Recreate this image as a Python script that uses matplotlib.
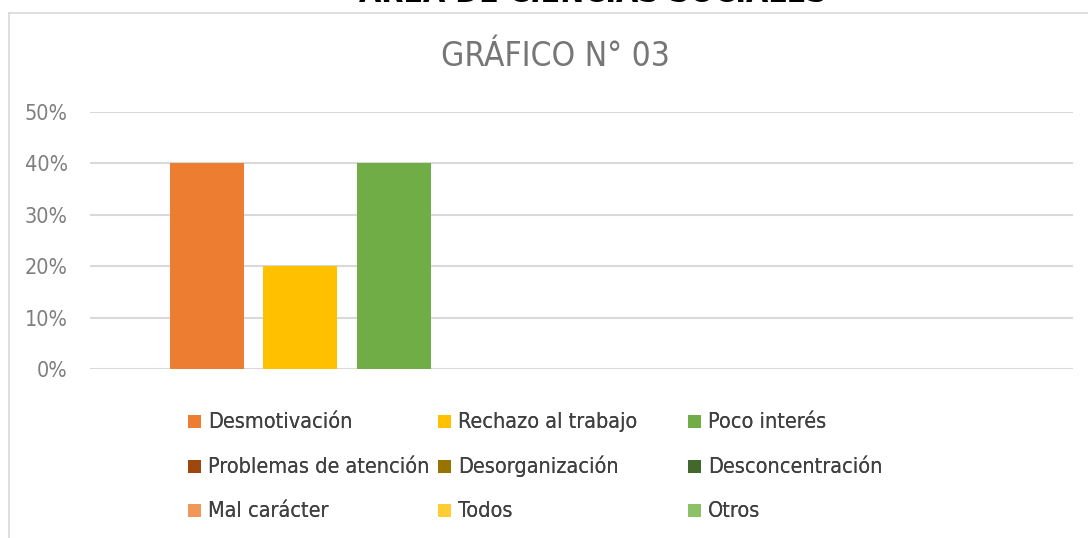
import matplotlib
matplotlib.use("Agg")
import matplotlib.pyplot as plt
from matplotlib.lines import Line2D
from matplotlib.patches import Rectangle
from matplotlib.legend_handler import HandlerPatch
from matplotlib.ticker import FixedLocator, FuncFormatter

plt.rcParams['font.family'] = ['DejaVu Sans']
plt.rcParams['font.stretch'] = 'condensed'

# one category, nine series (Excel clustered column)
SERIES = [
    "Desmotivación", "Rechazo al trabajo", "Poco interés",
    "Problemas de atención", "Desorganización", "Desconcentración",
    "Mal carácter", "Todos", "Otros",
]
VALUES = [0.40, 0.20, 0.40, 0.0, 0.0, 0.0, 0.0, 0.0, 0.0]
COLORS = [
    "#ED7D31", "#FFC000", "#70AD47",
    "#9E480E", "#997300", "#43682B",
    "#F1975A", "#FFCD33", "#8CC168",
]
Y_TICKS = [0.0, 0.1, 0.2, 0.3, 0.4, 0.5]

TITLE = "GRÁFICO N° 03"
TOP_TITLE = "AREA DE CIENCIAS SOCIALES"

W, H = 1088, 538
fig = plt.figure(figsize=(W / 100, H / 100), dpi=100)
fig.patch.set_facecolor("white")

# plot area in pixel coords
x0, x1, ytop, ybot = 90, 1073, 112, 369
ax = fig.add_axes([x0 / W, 1 - ybot / H, (x1 - x0) / W, (ybot - ytop) / H])

bars = []
for i, (name, v, c) in enumerate(zip(SERIES, VALUES, COLORS)):
    bars.append(ax.bar(i, v, width=0.79, color=c, label=name, zorder=3))

ax.set_xlim(-1.25, 9.26)
ax.set_ylim(0, 0.5)
ax.yaxis.set_major_locator(FixedLocator(Y_TICKS))
ax.yaxis.set_major_formatter(FuncFormatter(lambda v, p: f"{v * 100:.0f}%"))
ax.set_xticks([])
for s in ax.spines.values():
    s.set_visible(False)
ax.tick_params(axis='y', length=0, pad=16, labelsize=15.5, labelcolor="#7F7F7F")
ax.grid(True, axis='y', color="#D9D9D9", linewidth=1.5, zorder=0)
ax.set_axisbelow(True)

# chart title
fig.text(555 / W, 1 - 57 / H, TITLE, ha="center", va="center",
         fontsize=24, color="#767676")

# cut-off page heading above the chart frame
fig.text(593 / W, 1 - 1.5 / H, TOP_TITLE, ha="center", va="baseline",
         fontsize=23, fontweight="bold", color="#000000")

# chart frame (left and top edges)
fx, fy = 9 / W, 1 - 13 / H
fig.add_artist(Line2D([fx, 1.0], [fy, fy], transform=fig.transFigure,
                      color="#D9D9D9", linewidth=1.2))
fig.add_artist(Line2D([fx, fx], [fy, 0.0], transform=fig.transFigure,
                      color="#D9D9D9", linewidth=1.2))

SQ = 9.4  # legend square, points (about 13 px)


def baseline_square(legend, orig_handle, xdescent, ydescent, width, height, fontsize):
    # square sitting on the text baseline, like Excel's legend keys
    return Rectangle((-xdescent, 0), SQ, SQ)


# legend: three fixed-width columns, row-major like Excel
# tall handle box so every row gets the same height
handles = [b.patches[0] for b in bars]
FS = 15.5
col_x = [188, 438, 688]
for c in range(3):
    idx = [c, c + 3, c + 6]
    leg = fig.legend([handles[i] for i in idx], [SERIES[i] for i in idx],
                     loc="upper left", bbox_to_anchor=(col_x[c] / W, 1 - 408 / H),
                     ncol=1, frameon=False, fontsize=FS,
                     handlelength=SQ / FS, handleheight=1.5, handletextpad=0.32,
                     labelspacing=0.847, borderaxespad=0, borderpad=0,
                     labelcolor="#404040",
                     handler_map={Rectangle: HandlerPatch(patch_func=baseline_square)})
    fig.add_artist(leg)

fig.savefig("out.png", dpi=100, facecolor="white")
